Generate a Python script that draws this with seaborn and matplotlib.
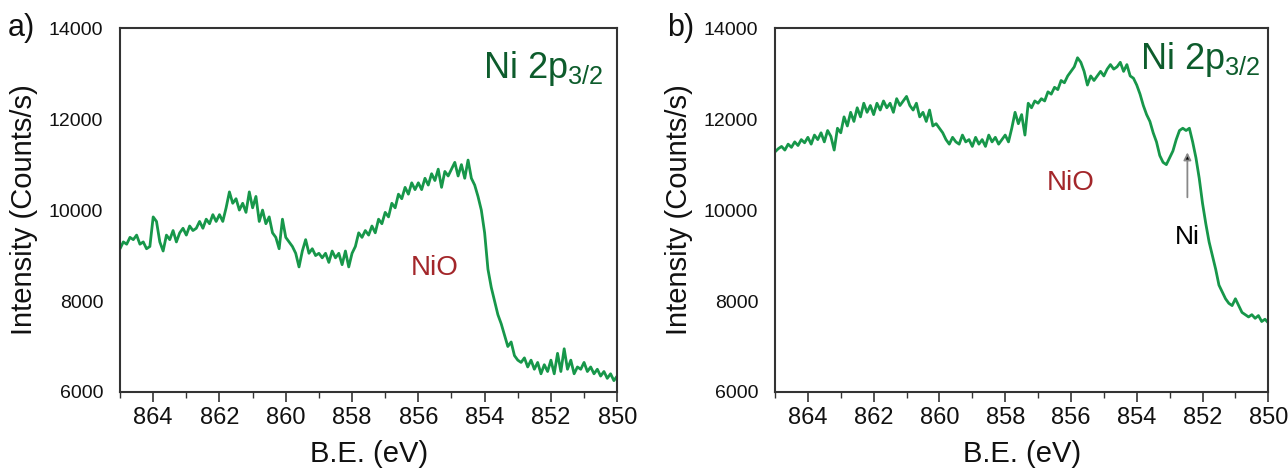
"""
Ni 2p3/2 XPS spectra, two panels
"""
import matplotlib
matplotlib.use("Agg")
import matplotlib.pyplot as plt
from matplotlib.ticker import MultipleLocator
import seaborn as sns
import numpy as np
import pandas as pd

# binding energy grid, 865.0 -> 850.0 eV in 0.1 eV steps (151 points)
be = np.round(np.arange(865.0, 849.95, -0.1), 1)

# panel a) intensity (counts/s)
counts_a = [
    9150, 9300, 9250, 9400, 9350, 9450, 9250, 9300, 9150, 9200,
    9850, 9750, 9300, 9100, 9450, 9350, 9550, 9300, 9500, 9600,
    9450, 9650, 9550, 9600, 9750, 9600, 9800, 9700, 9900, 9750,
    9900, 9750, 10050, 10400, 10150, 10250, 10000, 10150, 9950, 10400,
    10050, 10300, 9750, 10000, 9700, 9850, 9500, 9400, 9150, 9800,
    9400, 9300, 9200, 9050, 8750, 9100, 9350, 9050, 9150, 9000,
    9050, 8950, 9050, 8850, 9100, 8950, 9050, 8800, 9100, 8750,
    9050, 9200, 9500, 9400, 9550, 9450, 9650, 9500, 9800, 9700,
    9950, 9850, 10150, 10050, 10350, 10250, 10500, 10350, 10600, 10450,
    10600, 10450, 10700, 10550, 10800, 10650, 10900, 10500, 10850, 10750,
    10900, 11050, 10750, 11000, 10700, 11100, 10700, 10550, 10300, 10000,
    9500, 8700, 8300, 8000, 7700, 7500, 7250, 7000, 7100, 6800,
    6700, 6650, 6750, 6550, 6700, 6500, 6650, 6400, 6600, 6450,
    6700, 6400, 6850, 6450, 6950, 6500, 6700, 6400, 6550, 6500,
    6650, 6450, 6550, 6400, 6500, 6350, 6450, 6300, 6400, 6250,
    6350,
]

# panel b) intensity (counts/s)
counts_b = [
    11280, 11350, 11400, 11320, 11450, 11380, 11500, 11420, 11550, 11480,
    11600, 11450, 11650, 11550, 11700, 11500, 11750, 11620, 11320, 11800,
    11700, 12050, 11850, 12150, 11950, 12250, 12050, 12350, 12150, 12300,
    12100, 12350, 12200, 12400, 12250, 12350, 12150, 12450, 12300, 12400,
    12500, 12300, 12200, 12350, 12050, 12150, 11950, 12200, 11850, 11900,
    11800, 11700, 11550, 11450, 11600, 11500, 11450, 11650, 11500, 11550,
    11400, 11600, 11450, 11550, 11400, 11650, 11500, 11600, 11450, 11550,
    11650, 11500, 11800, 12150, 11900, 12100, 11650, 12350, 12250, 12400,
    12350, 12450, 12400, 12600, 12550, 12700, 12650, 12850, 12800, 12950,
    13050, 13150, 13350, 13250, 13050, 12750, 12950, 12850, 12950, 13050,
    12950, 13100, 13200, 13100, 13150, 13250, 13050, 13200, 12950, 12900,
    12750, 12550, 12300, 12100, 11950, 11700, 11500, 11200, 11050, 11000,
    11150, 11300, 11550, 11750, 11800, 11750, 11800, 11500, 11150, 10700,
    10150, 9700, 9300, 9000, 8700, 8350, 8200, 8050, 7950, 7900,
    8050, 7900, 7750, 7700, 7650, 7700, 7620, 7680, 7550, 7600,
    7520,
]

x_ticks = [864, 862, 860, 858, 856, 854, 852, 850]
y_ticks = [6000, 8000, 10000, 12000, 14000]

LINE = '#17974a'
TITLE = '#0d5c2c'
NIO = '#a3262a'
INK = '#111111'

sns.set_style("white")
plt.rcParams['font.family'] = ['Liberation Sans', 'DejaVu Sans']
plt.rcParams['mathtext.fontset'] = 'custom'
plt.rcParams['mathtext.rm'] = 'Liberation Sans'
plt.rcParams['text.color'] = INK
plt.rcParams['axes.labelcolor'] = INK
plt.rcParams['xtick.color'] = INK
plt.rcParams['ytick.color'] = INK

fig = plt.figure(figsize=(12.88, 4.70), dpi=100)
ax_a = fig.add_axes([0.0932, 0.166, 0.386, 0.774])
ax_b = fig.add_axes([0.6017, 0.166, 0.383, 0.774])


def style_axis(ax):
    ax.set_xlim(865, 850)
    ax.set_ylim(6000, 14000)
    ax.set_xticks(x_ticks)
    ax.set_yticks(y_ticks)
    ax.xaxis.set_minor_locator(MultipleLocator(1))
    ax.tick_params(axis='x', which='major', direction='out', length=7, width=1.2,
                   labelsize=17, color='#333333', pad=4, bottom=True)
    ax.tick_params(axis='x', which='minor', direction='out', length=4, width=1.0,
                   color='#333333', bottom=True)
    ax.tick_params(axis='y', length=0, labelsize=14, pad=12)
    for s in ax.spines.values():
        s.set_color('#333333')
        s.set_linewidth(1.5)
    ax.set_xlabel('B.E. (eV)', fontsize=21, labelpad=8)
    ax.set_ylabel('Intensity (Counts/s)', fontsize=21, labelpad=8)
    ax.grid(False)


for ax, counts in [(ax_a, counts_a), (ax_b, counts_b)]:
    df = pd.DataFrame({'be': be, 'counts': counts})
    sns.lineplot(data=df, x='be', y='counts', ax=ax, color=LINE, linewidth=2,
                 sort=False, estimator=None)
    style_axis(ax)

# panel a annotations
ax_a.text(0.73, 0.89, r'Ni 2p$_{\mathregular{3/2}}$', transform=ax_a.transAxes,
          fontsize=26, color=TITLE, ha='left', va='center')
ax_a.text(855.5, 8730, 'NiO', fontsize=20, color=NIO, ha='center', va='center')

# panel b annotations
ax_b.text(0.74, 0.915, r'Ni 2p$_{\mathregular{3/2}}$', transform=ax_b.transAxes,
          fontsize=26, color=TITLE, ha='left', va='center')
ax_b.text(856.0, 10600, 'NiO', fontsize=20, color=NIO, ha='center', va='center')
ax_b.text(852.46, 9400, 'Ni', fontsize=19, color='black', ha='center', va='center')
ax_b.annotate('', xy=(852.46, 11330), xytext=(852.46, 10220),
              arrowprops=dict(arrowstyle='-|>', edgecolor='#888888', facecolor='black',
                              lw=1.3, mutation_scale=11))

fig.text(0.006, 0.94, 'a)', fontsize=22, ha='left', va='center')
fig.text(0.518, 0.94, 'b)', fontsize=22, ha='left', va='center')

plt.savefig('out.png', dpi=100)
